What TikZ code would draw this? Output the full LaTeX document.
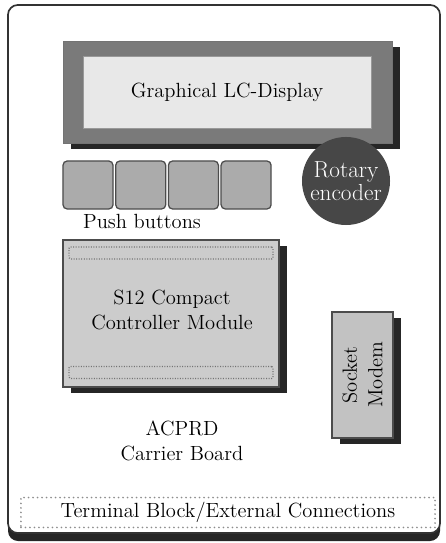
\documentclass[tikz,border=0pt]{standalone}
\usetikzlibrary{positioning, shadows}

\begin{document}
\begin{tikzpicture}[
        x=0.025cm, y=-0.025cm,
        every node/.style={font=\fontsize{14.6}{18}\selectfont},
        shade box/.style={general shadow={fill=black!85, shadow xshift=0.2cm, shadow yshift=-0.16cm}},
        board/.style={rectangle, rounded corners=0.25cm, draw=black!80, line width=1.2pt, fill=white, minimum width=10.8cm, minimum height=13.2cm},
        lcd/.style={rectangle, shade box, draw=black!55, fill=black!52, minimum width=8.225cm, minimum height=2.55cm},
        screen/.style={rectangle, draw=black!40, fill=black!9, minimum width=7.2cm, minimum height=1.8cm, text centered},
        button/.style={rectangle, rounded corners=3pt, draw=black!70, line width=0.9pt, fill=black!33, minimum width=1.25cm, minimum height=1.2cm},
        encoder/.style={circle, fill=black!72, text=white, minimum size=2.2cm, inner sep=0pt, align=center, font=\fontsize{16.5}{19}\selectfont},
        module/.style={rectangle, shade box, draw=black!70, line width=0.9pt, fill=black!20, minimum width=5.4cm, minimum height=3.675cm},
        header/.style={rectangle, rounded corners=1pt, draw=black!55, line width=0.9pt, dash pattern=on 0.7pt off 1.1pt, minimum width=5.1cm, minimum height=0.3cm},
        modem/.style={rectangle, shade box, draw=black!70, line width=0.9pt, fill=black!24, minimum width=1.525cm, minimum height=3.15cm},
        terminal/.style={rectangle, draw=black!45, line width=1.3pt, line cap=round, dash pattern=on 0pt off 3.2pt, minimum width=10.35cm, minimum height=0.725cm},
        label/.style={align=center}
        ]

        \useasboundingbox (0,0) rectangle (445,543);

        % carrier board with its bottom shadow
        \fill [black!85, rounded corners=0.25cm] (8,15) rectangle (440,541);
        \node (board)  [board] at (224,269) {};

        % display
        \node (lcd)    [lcd]    at (227.5,92) {};
        \node (screen) [screen] at (227,92)   {Graphical LC-Display};

        % push buttons and rotary encoder
        \foreach \i in {0,...,3}
            \node (btn\i) [button] at (88+52.7*\i,185) {};
        \node (pushlbl) [label] at (142,221) {Push buttons};
        \node (rotary)  [encoder] at (346,181) {Rotary\\[-3pt]encoder};

        % controller module
        \node (module)  [module] at (171,313.5) {};
        \node (hdrtop)  [header] at (171,253)   {};
        \node (hdrbot)  [header] at (171,372.5) {};
        \node (modlbl)  [label]  at (172,310)   {S12 Compact\\Controller Module};

        % socket modem
        \node (modem)    [modem] at (362.5,375) {};
        \node (modemlbl) [label, rotate=90] at (362.5,375) {Socket\\Modem};

        \node (carrier)  [label] at (182,441) {ACPRD\\Carrier Board};

        % terminal block
        \node (terminal) [terminal] at (228,512.5) {Terminal Block/External Connections};

    \end{tikzpicture}
\end{document}
